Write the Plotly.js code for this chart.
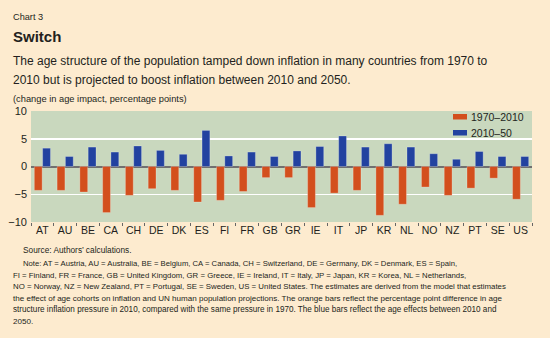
<!DOCTYPE html>
<html>
<head>
<meta charset="utf-8">
<script src="https://cdn.plot.ly/plotly-3.0.1.min.js"></script>
<style>
html,body{margin:0;padding:0;background:#FDEBCF;}
#chart{width:550px;height:338px;}
</style>
</head>
<body>
<div id="chart"></div>
<script>
// ---- data ----
var countries = ["AT","AU","BE","CA","CH","DE","DK","ES","FI","FR","GB","GR","IE","IT","JP","KR","NL","NO","NZ","PT","SE","US"];
var change1970_2010 = [-4.3,-4.3,-4.6,-8.3,-5.2,-4.0,-4.3,-6.4,-6.1,-4.5,-2.0,-2.0,-7.4,-4.8,-4.3,-8.8,-6.8,-3.7,-5.2,-3.9,-2.1,-5.9];
var change2010_50   = [3.3,1.8,3.5,2.6,3.7,2.9,2.2,6.5,1.9,2.6,1.8,2.8,3.6,5.5,3.5,4.1,3.5,2.3,1.3,2.7,1.8,1.8];
var seriesNames = ["1970\u20132010","2010\u201350"];
var yTicks = [-10,-5,0,5,10];

// ---- styling ----
var colors = ["#D34F1D","#2242A0"];
var L = 31, R = 532, T = 111, B = 222;
function px(x){ return (x - L) / (R - L); }
function py(y){ return (B - y) / (B - T); }

var fam = "'Liberation Sans',Arial,sans-serif";
var ink = "#231F20";

var traces = [
  {type:"bar", x:countries, y:change1970_2010, name:seriesNames[0],
   marker:{color:colors[0], line:{color:"rgba(255,255,255,0.35)", width:0.7}}},
  {type:"bar", x:countries, y:change2010_50, name:seriesNames[1],
   marker:{color:colors[1], line:{color:"rgba(255,255,255,0.35)", width:0.7}}}
];

function ann(text, x, y, size, extra){
  var a = {text:text, xref:"paper", yref:"paper", x:px(x), y:py(y), xanchor:"left", yanchor:"middle",
           showarrow:false, align:"left", font:{family:fam, size:size, color:ink}};
  if (extra) for (var k in extra) a[k] = extra[k];
  return a;
}

var annotations = [
  ann("Chart 3", 11, 17, 9.2),
  ann("<b>Switch</b>", 11, 37, 15),
  ann("The age structure of the population tamped down inflation in many countries from 1970 to", 11, 61, 12),
  ann("2010 but is projected to boost inflation between 2010 and 2050.", 11, 80, 12),
  ann("(change in age impact, percentage points)", 11, 99, 9.3),
  ann("Source: Authors\u2019 calculations.", 21, 250, 8.3),
  ann("Note: AT = Austria, AU = Australia, BE = Belgium, CA = Canada, CH = Switzerland, DE = Germany, DK = Denmark, ES = Spain,", 21, 263, 7.7),
  ann("FI = Finland, FR = France, GB = United Kingdom, GR = Greece, IE = Ireland, IT = Italy, JP = Japan, KR = Korea, NL = Netherlands,", 11, 275, 7.8),
  ann("NO = Norway, NZ = New Zealand, PT = Portugal, SE = Sweden, US = United States. The estimates are derived from the model that estimates", 11, 286.5, 7.85),
  ann("the effect of age cohorts on inflation and UN human population projections. The orange bars reflect the percentage point difference in age", 11, 298, 8.05),
  ann("structure inflation pressure in 2010, compared with the same pressure in 1970. The blue bars reflect the age effects between 2010 and", 11, 309.5, 8.15),
  ann("2050.", 11, 321, 8.1),
  // legend labels
  ann(seriesNames[0], 469, 117, 10.5),
  ann(seriesNames[1], 469, 133, 10.5)
];

// legend swatches
var shapes = [
  {type:"rect", xref:"paper", yref:"paper", x0:px(453), x1:px(467), y0:py(119.5), y1:py(114), fillcolor:colors[0], line:{width:0}},
  {type:"rect", xref:"paper", yref:"paper", x0:px(453), x1:px(467), y0:py(135.5), y1:py(130), fillcolor:colors[1], line:{width:0}}
];

var layout = {
  width:550, height:338,
  margin:{l:L, r:550-R, t:T, b:338-B, pad:0},
  paper_bgcolor:"#FDEBCF",
  plot_bgcolor:"#C9D8BE",
  barmode:"group", bargap:0.27, bargroupgap:0.06,
  font:{family:fam, color:ink},
  showlegend:false,
  xaxis:{type:"category", tickson:"boundaries", ticks:"outside", ticklen:3, tickcolor:"#666", tickangle:0,
         showgrid:false, zeroline:false, showline:false,
         tickfont:{family:fam, size:10.5, color:ink}, fixedrange:true},
  yaxis:{range:[-10,10], tickvals:yTicks, showgrid:true, gridcolor:"#FFFFFF", gridwidth:1.5,
         zeroline:true, zerolinecolor:"#707070", zerolinewidth:2, showline:false, ticks:"",
         ticklabelstandoff:3,
         tickfont:{family:fam, size:11, color:ink}, fixedrange:true},
  annotations:annotations,
  shapes:shapes
};

Plotly.newPlot("chart", traces, layout, {displayModeBar:false, staticPlot:true});
</script>
</body>
</html>
